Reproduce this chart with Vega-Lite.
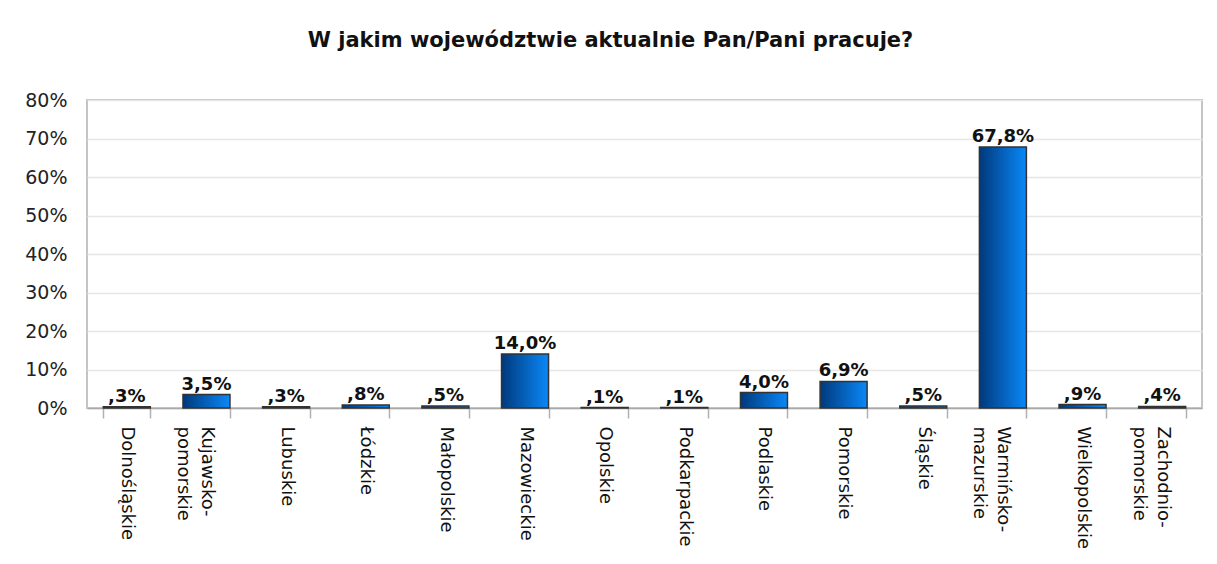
{
  "$schema": "https://vega.github.io/schema/vega-lite/v6.json",
  "width": 1115,
  "height": 308,
  "autosize": {"type": "none"},
  "padding": {"left": 87, "top": 100, "right": 15, "bottom": 156},
  "background": "white",
  "title": {
    "text": "W jakim województwie aktualnie Pan/Pani pracuje?",
    "font": "DejaVu Sans",
    "fontSize": 21,
    "fontWeight": "bold",
    "color": "#111111",
    "anchor": "middle",
    "frame": "group",
    "baseline": "alphabetic",
    "offset": 23,
    "dx": -34
  },
  "data": {
    "values": [
      {"region": "Dolnośląskie", "value": 0.3, "label": ",3%"},
      {"region": "Kujawsko-|pomorskie", "value": 3.5, "label": "3,5%"},
      {"region": "Lubuskie", "value": 0.3, "label": ",3%"},
      {"region": "Łódzkie", "value": 0.8, "label": ",8%"},
      {"region": "Małopolskie", "value": 0.5, "label": ",5%"},
      {"region": "Mazowieckie", "value": 14.0, "label": "14,0%"},
      {"region": "Opolskie", "value": 0.1, "label": ",1%"},
      {"region": "Podkarpackie", "value": 0.1, "label": ",1%"},
      {"region": "Podlaskie", "value": 4.0, "label": "4,0%"},
      {"region": "Pomorskie", "value": 6.9, "label": "6,9%"},
      {"region": "Śląskie", "value": 0.5, "label": ",5%"},
      {"region": "Warmińsko-|mazurskie", "value": 67.8, "label": "67,8%"},
      {"region": "Wielkopolskie", "value": 0.9, "label": ",9%"},
      {"region": "Zachodnio-|pomorskie", "value": 0.4, "label": ",4%"}
    ]
  },
  "encoding": {
    "x": {
      "field": "region",
      "type": "nominal",
      "sort": null,
      "scale": {"paddingInner": 0.41, "paddingOuter": 0.205},
      "axis": {
        "title": null,
        "labelAngle": 90,
        "labelAlign": "left",
        "labelBaseline": "middle",
        "labelPadding": 8,
        "labelFont": "DejaVu Sans",
        "labelFontSize": 18,
        "labelColor": "#111111",
        "labelLineHeight": 24,
        "labelExpr": "split(datum.label, '|')",
        "tickBand": "extent",
        "tickSize": 10,
        "tickColor": "#b0b0b0",
        "tickWidth": 1.5,
        "domainColor": "#a8a8a8",
        "domainWidth": 1.5,
        "grid": false
      }
    },
    "y": {
      "field": "value",
      "type": "quantitative",
      "scale": {"domain": [0, 80], "nice": false},
      "axis": {
        "title": null,
        "values": [0, 10, 20, 30, 40, 50, 60, 70, 80],
        "labelExpr": "datum.value + '%'",
        "labelFont": "DejaVu Sans",
        "labelFontSize": 19,
        "labelColor": "#222222",
        "labelPadding": 20,
        "ticks": false,
        "domain": false,
        "grid": true,
        "gridColor": "#e6e6e6",
        "gridWidth": 1.5
      }
    }
  },
  "layer": [
    {
      "mark": {
        "type": "bar",
        "stroke": "#333333",
        "strokeWidth": 1.5,
        "color": {
          "gradient": "linear",
          "x1": 0, "y1": 0, "x2": 1, "y2": 0,
          "stops": [
            {"offset": 0, "color": "#00397c"},
            {"offset": 1, "color": "#0a88f8"}
          ]
        }
      }
    },
    {
      "mark": {
        "type": "text",
        "font": "DejaVu Sans",
        "fontSize": 18,
        "fontWeight": "bold",
        "color": "#111111",
        "baseline": "alphabetic",
        "dy": -5
      },
      "encoding": {"text": {"field": "label"}}
    }
  ],
  "config": {
    "view": {"stroke": "#c4c4c4", "strokeWidth": 2}
  }
}
